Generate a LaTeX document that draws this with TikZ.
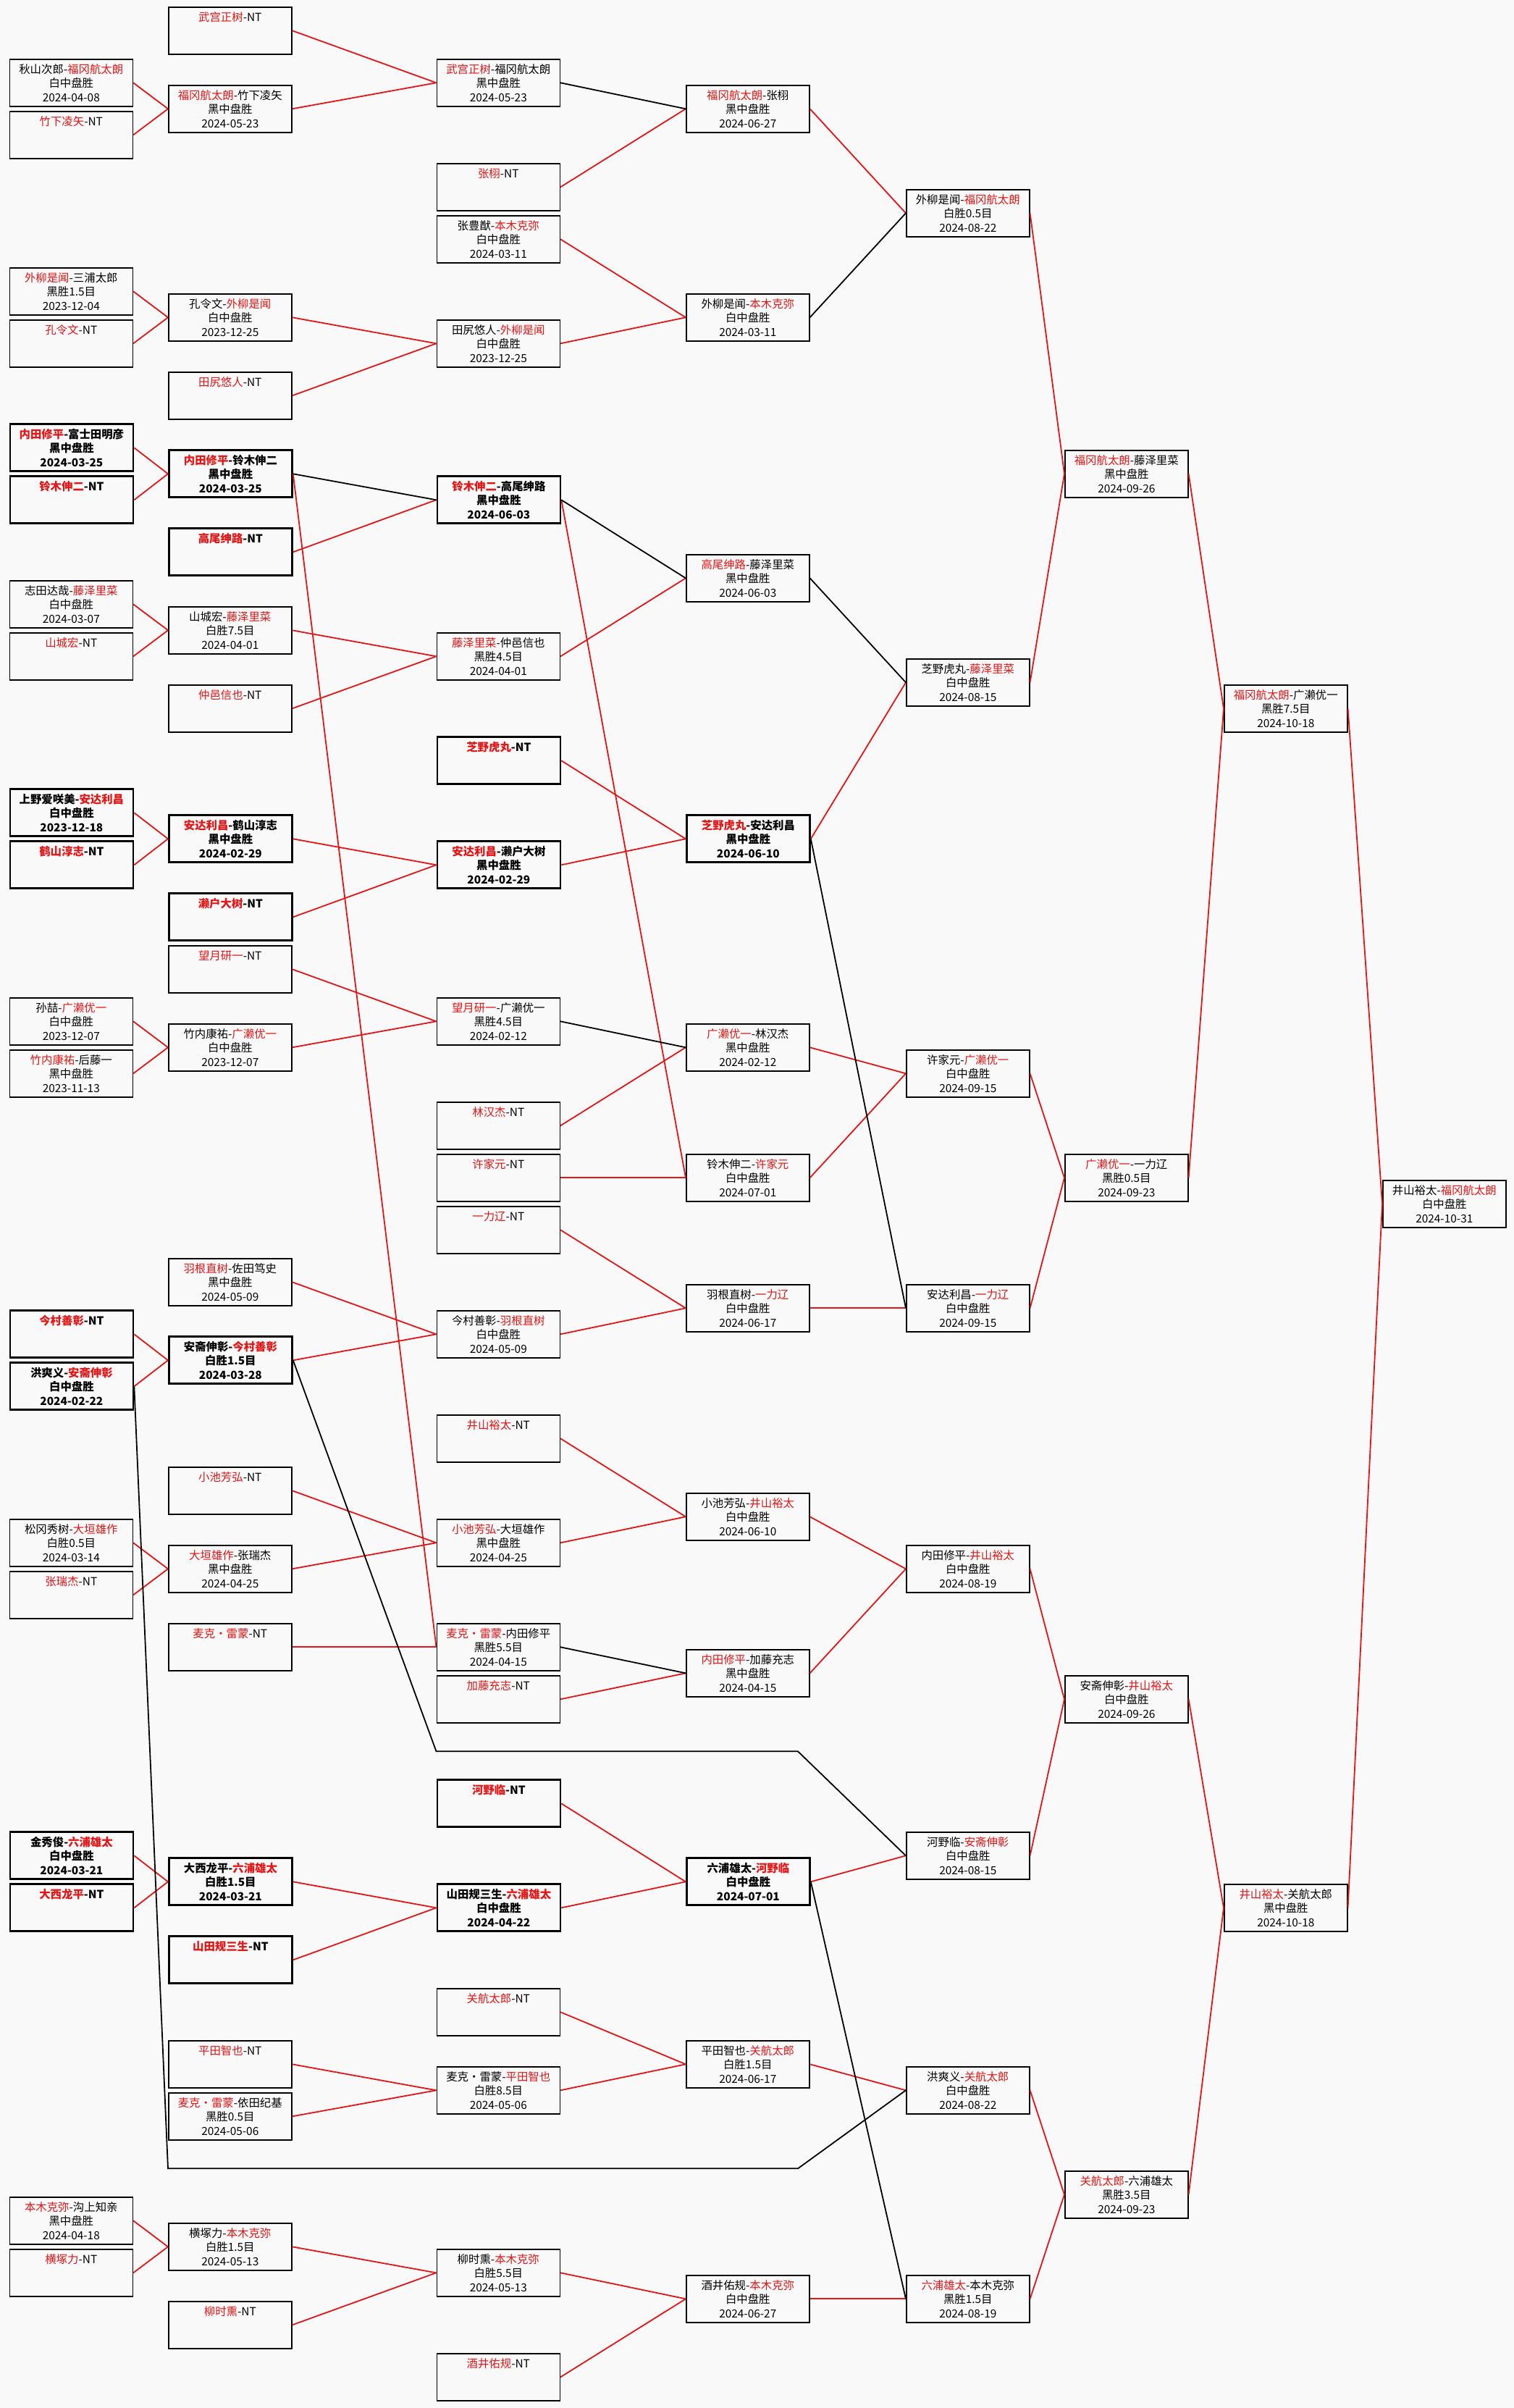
\documentclass[tikz,border=0pt]{standalone}
\usepackage{fontspec}
\newfontfamily\cjk{Noto Sans CJK SC}
\definecolor{winred}{RGB}{230,20,20}
\definecolor{pagebg}{RGB}{249,249,249}
\newcommand\wn[1]{\textcolor{winred}{#1}}
\begin{document}
\begin{tikzpicture}
      [
      x=0.5pt, y=-18pt,
      entry/.style={rectangle,draw,line width=0.8pt,anchor=west,inner sep=0pt,minimum width=85pt,minimum height=32.5pt,align=center,font=\cjk\fontsize{7.7}{9.8}\selectfont},
      game/.style={entry,text height=29.2pt,text depth=3.3pt},
      bye/.style={entry,text height=9.6pt,text depth=22.9pt},
      seed/.style={line width=1.4pt,font=\cjk\bfseries\fontsize{7.7}{9.8}\selectfont},
      won/.style={draw=winred,line width=0.9pt},
      lost/.style={draw=black,line width=0.9pt}
      ]
      \fill [pagebg] (0,-1.175) rectangle (2091,91.186);
      \useasboundingbox (0,-1.175) rectangle (2091,91.186);
      \node (A2) at (12.5,2) [game] {秋山次郎-\wn{福冈航太朗}\\白中盘胜\\2024-04-08};
      \node (A4) at (12.5,4) [bye] {\wn{竹下凌矢}-NT};
      \node (A10) at (12.5,10) [game] {\wn{外柳是闻}-三浦太郎\\黑胜1.5目\\2023-12-04};
      \node (A12) at (12.5,12) [bye] {\wn{孔令文}-NT};
      \node (A16) at (12.5,16) [game,seed] {\wn{内田修平}-富士田明彦\\黑中盘胜\\2024-03-25};
      \node (A18) at (12.5,18) [bye,seed] {\wn{铃木伸二}-NT};
      \node (A22) at (12.5,22) [game] {志田达哉-\wn{藤泽里菜}\\白中盘胜\\2024-03-07};
      \node (A24) at (12.5,24) [bye] {\wn{山城宏}-NT};
      \node (A30) at (12.5,30) [game,seed] {上野爱咲美-\wn{安达利昌}\\白中盘胜\\2023-12-18};
      \node (A32) at (12.5,32) [bye,seed] {\wn{鹤山淳志}-NT};
      \node (A38) at (12.5,38) [game] {孙喆-\wn{广濑优一}\\白中盘胜\\2023-12-07};
      \node (A40) at (12.5,40) [game] {\wn{竹内康祐}-后藤一\\黑中盘胜\\2023-11-13};
      \node (A50) at (12.5,50) [bye,seed] {\wn{今村善彰}-NT};
      \node (A52) at (12.5,52) [game,seed] {洪爽义-\wn{安斋伸彰}\\白中盘胜\\2024-02-22};
      \node (A58) at (12.5,58) [game] {松冈秀树-\wn{大垣雄作}\\白胜0.5目\\2024-03-14};
      \node (A60) at (12.5,60) [bye] {\wn{张瑞杰}-NT};
      \node (A70) at (12.5,70) [game,seed] {金秀俊-\wn{六浦雄太}\\白中盘胜\\2024-03-21};
      \node (A72) at (12.5,72) [bye,seed] {\wn{大西龙平}-NT};
      \node (A84) at (12.5,84) [game] {\wn{本木克弥}-沟上知亲\\黑中盘胜\\2024-04-18};
      \node (A86) at (12.5,86) [bye] {\wn{横塚力}-NT};
      \node (B0) at (232,0) [bye] {\wn{武宫正树}-NT};
      \node (B3) at (232,3) [game] {\wn{福冈航太朗}-竹下凌矢\\黑中盘胜\\2024-05-23};
      \node (B11) at (232,11) [game] {孔令文-\wn{外柳是闻}\\白中盘胜\\2023-12-25};
      \node (B14) at (232,14) [bye] {\wn{田尻悠人}-NT};
      \node (B17) at (232,17) [game,seed] {\wn{内田修平}-铃木伸二\\黑中盘胜\\2024-03-25};
      \node (B20) at (232,20) [bye,seed] {\wn{高尾绅路}-NT};
      \node (B23) at (232,23) [game] {山城宏-\wn{藤泽里菜}\\白胜7.5目\\2024-04-01};
      \node (B26) at (232,26) [bye] {\wn{仲邑信也}-NT};
      \node (B31) at (232,31) [game,seed] {\wn{安达利昌}-鹤山淳志\\黑中盘胜\\2024-02-29};
      \node (B34) at (232,34) [bye,seed] {\wn{濑户大树}-NT};
      \node (B36) at (232,36) [bye] {\wn{望月研一}-NT};
      \node (B39) at (232,39) [game] {竹内康祐-\wn{广濑优一}\\白中盘胜\\2023-12-07};
      \node (B48) at (232,48) [game] {\wn{羽根直树}-佐田笃史\\黑中盘胜\\2024-05-09};
      \node (B51) at (232,51) [game,seed] {安斋伸彰-\wn{今村善彰}\\白胜1.5目\\2024-03-28};
      \node (B56) at (232,56) [bye] {\wn{小池芳弘}-NT};
      \node (B59) at (232,59) [game] {\wn{大垣雄作}-张瑞杰\\黑中盘胜\\2024-04-25};
      \node (B62) at (232,62) [bye] {\wn{麦克・雷蒙}-NT};
      \node (B71) at (232,71) [game,seed] {大西龙平-\wn{六浦雄太}\\白胜1.5目\\2024-03-21};
      \node (B74) at (232,74) [bye,seed] {\wn{山田规三生}-NT};
      \node (B78) at (232,78) [bye] {\wn{平田智也}-NT};
      \node (B80) at (232,80) [game] {\wn{麦克・雷蒙}-依田纪基\\黑胜0.5目\\2024-05-06};
      \node (B85) at (232,85) [game] {横塚力-\wn{本木克弥}\\白胜1.5目\\2024-05-13};
      \node (B88) at (232,88) [bye] {\wn{柳时熏}-NT};
      \node (C2) at (602.5,2) [game] {\wn{武宫正树}-福冈航太朗\\黑中盘胜\\2024-05-23};
      \node (C6) at (602.5,6) [bye] {\wn{张栩}-NT};
      \node (C8) at (602.5,8) [game] {张豊猷-\wn{本木克弥}\\白中盘胜\\2024-03-11};
      \node (C12) at (602.5,12) [game] {田尻悠人-\wn{外柳是闻}\\白中盘胜\\2023-12-25};
      \node (C18) at (602.5,18) [game,seed] {\wn{铃木伸二}-高尾绅路\\黑中盘胜\\2024-06-03};
      \node (C24) at (602.5,24) [game] {\wn{藤泽里菜}-仲邑信也\\黑胜4.5目\\2024-04-01};
      \node (C28) at (602.5,28) [bye,seed] {\wn{芝野虎丸}-NT};
      \node (C32) at (602.5,32) [game,seed] {\wn{安达利昌}-濑户大树\\黑中盘胜\\2024-02-29};
      \node (C38) at (602.5,38) [game] {\wn{望月研一}-广濑优一\\黑胜4.5目\\2024-02-12};
      \node (C42) at (602.5,42) [bye] {\wn{林汉杰}-NT};
      \node (C44) at (602.5,44) [bye] {\wn{许家元}-NT};
      \node (C46) at (602.5,46) [bye] {\wn{一力辽}-NT};
      \node (C50) at (602.5,50) [game] {今村善彰-\wn{羽根直树}\\白中盘胜\\2024-05-09};
      \node (C54) at (602.5,54) [bye] {\wn{井山裕太}-NT};
      \node (C58) at (602.5,58) [game] {\wn{小池芳弘}-大垣雄作\\黑中盘胜\\2024-04-25};
      \node (C62) at (602.5,62) [game] {\wn{麦克・雷蒙}-内田修平\\黑胜5.5目\\2024-04-15};
      \node (C64) at (602.5,64) [bye] {\wn{加藤充志}-NT};
      \node (C68) at (602.5,68) [bye,seed] {\wn{河野临}-NT};
      \node (C72) at (602.5,72) [game,seed] {山田规三生-\wn{六浦雄太}\\白中盘胜\\2024-04-22};
      \node (C76) at (602.5,76) [bye] {\wn{关航太郎}-NT};
      \node (C79) at (602.5,79) [game] {麦克・雷蒙-\wn{平田智也}\\白胜8.5目\\2024-05-06};
      \node (C86) at (602.5,86) [game] {柳时熏-\wn{本木克弥}\\白胜5.5目\\2024-05-13};
      \node (C90) at (602.5,90) [bye] {\wn{酒井佑规}-NT};
      \node (D3) at (947,3) [game] {\wn{福冈航太朗}-张栩\\黑中盘胜\\2024-06-27};
      \node (D11) at (947,11) [game] {外柳是闻-\wn{本木克弥}\\白中盘胜\\2024-03-11};
      \node (D21) at (947,21) [game] {\wn{高尾绅路}-藤泽里菜\\黑中盘胜\\2024-06-03};
      \node (D31) at (947,31) [game,seed] {\wn{芝野虎丸}-安达利昌\\黑中盘胜\\2024-06-10};
      \node (D39) at (947,39) [game] {\wn{广濑优一}-林汉杰\\黑中盘胜\\2024-02-12};
      \node (D44) at (947,44) [game] {铃木伸二-\wn{许家元}\\白中盘胜\\2024-07-01};
      \node (D49) at (947,49) [game] {羽根直树-\wn{一力辽}\\白中盘胜\\2024-06-17};
      \node (D57) at (947,57) [game] {小池芳弘-\wn{井山裕太}\\白中盘胜\\2024-06-10};
      \node (D63) at (947,63) [game] {\wn{内田修平}-加藤充志\\黑中盘胜\\2024-04-15};
      \node (D71) at (947,71) [game,seed] {六浦雄太-\wn{河野临}\\白中盘胜\\2024-07-01};
      \node (D78) at (947,78) [game] {平田智也-\wn{关航太郎}\\白胜1.5目\\2024-06-17};
      \node (D87) at (947,87) [game] {酒井佑规-\wn{本木克弥}\\白中盘胜\\2024-06-27};
      \node (E7) at (1251,7) [game] {外柳是闻-\wn{福冈航太朗}\\白胜0.5目\\2024-08-22};
      \node (E25) at (1251,25) [game] {芝野虎丸-\wn{藤泽里菜}\\白中盘胜\\2024-08-15};
      \node (E40) at (1251,40) [game] {许家元-\wn{广濑优一}\\白中盘胜\\2024-09-15};
      \node (E49) at (1251,49) [game] {安达利昌-\wn{一力辽}\\白中盘胜\\2024-09-15};
      \node (E59) at (1251,59) [game] {内田修平-\wn{井山裕太}\\白中盘胜\\2024-08-19};
      \node (E70) at (1251,70) [game] {河野临-\wn{安斋伸彰}\\白中盘胜\\2024-08-15};
      \node (E79) at (1251,79) [game] {洪爽义-\wn{关航太郎}\\白中盘胜\\2024-08-22};
      \node (E87) at (1251,87) [game] {\wn{六浦雄太}-本木克弥\\黑胜1.5目\\2024-08-19};
      \node (F17) at (1470,17) [game] {\wn{福冈航太朗}-藤泽里菜\\黑中盘胜\\2024-09-26};
      \node (F44) at (1470,44) [game] {\wn{广濑优一}-一力辽\\黑胜0.5目\\2024-09-23};
      \node (F64) at (1470,64) [game] {安斋伸彰-\wn{井山裕太}\\白中盘胜\\2024-09-26};
      \node (F83) at (1470,83) [game] {\wn{关航太郎}-六浦雄太\\黑胜3.5目\\2024-09-23};
      \node (G26) at (1690,26) [game] {\wn{福冈航太朗}-广濑优一\\黑胜7.5目\\2024-10-18};
      \node (G72) at (1690,72) [game] {\wn{井山裕太}-关航太郎\\黑中盘胜\\2024-10-18};
      \node (H45) at (1909,45) [game] {井山裕太-\wn{福冈航太朗}\\白中盘胜\\2024-10-31};
      \coordinate (r66a) at (602.5,66);
      \coordinate (r66b) at (1102,66);
      \coordinate (r82a) at (232,82);
      \coordinate (r82b) at (1102,82);
      \foreach \a/\b in {A2/B3,A4/B3,A10/B11,A12/B11,A16/B17,A18/B17,A22/B23,A24/B23,A30/B31,A32/B31,
        A38/B39,A40/B39,A50/B51,A52/B51,A58/B59,A60/B59,A70/B71,A72/B71,A84/B85,A86/B85,
        B0/C2,B3/C2,B11/C12,B14/C12,B17/C62,B20/C18,B23/C24,B26/C24,B31/C32,B34/C32,B36/C38,B39/C38,
        B48/C50,B51/C50,B56/C58,B59/C58,B62/C62,B71/C72,B74/C72,B78/C79,B80/C79,B85/C86,B88/C86,
        C6/D3,C8/D11,C12/D11,C18/D44,C24/D21,C28/D31,C32/D31,C42/D39,C44/D44,C46/D49,C50/D49,
        C54/D57,C58/D57,C64/D63,C68/D71,C72/D71,C76/D78,C79/D78,C86/D87,C90/D87,
        D3/E7,D31/E25,D39/E40,D44/E40,D49/E49,D57/E59,D63/E59,D71/E70,D78/E79,D87/E87,
        E7/F17,E25/F17,E40/F44,E49/F44,E59/F64,E70/F64,E79/F83,E87/F83,
        F17/G26,F44/G26,F64/G72,F83/G72,G26/H45,G72/H45}
        \draw [won] (\a.east) to (\b.west);
      \foreach \a/\b in {B17/C18,C2/D3,C18/D21,C38/D39,C62/D63,D11/E7,D21/E25,D31/E49,D71/E87}
        \draw [lost] (\a.east) to (\b.west);
      \draw [lost] (B51.east) -- (r66a) -- (r66b) -- (E70.west);
      \draw [lost] (A52.east) -- (r82a) -- (r82b) -- (E79.west);
    \end{tikzpicture}
\end{document}
